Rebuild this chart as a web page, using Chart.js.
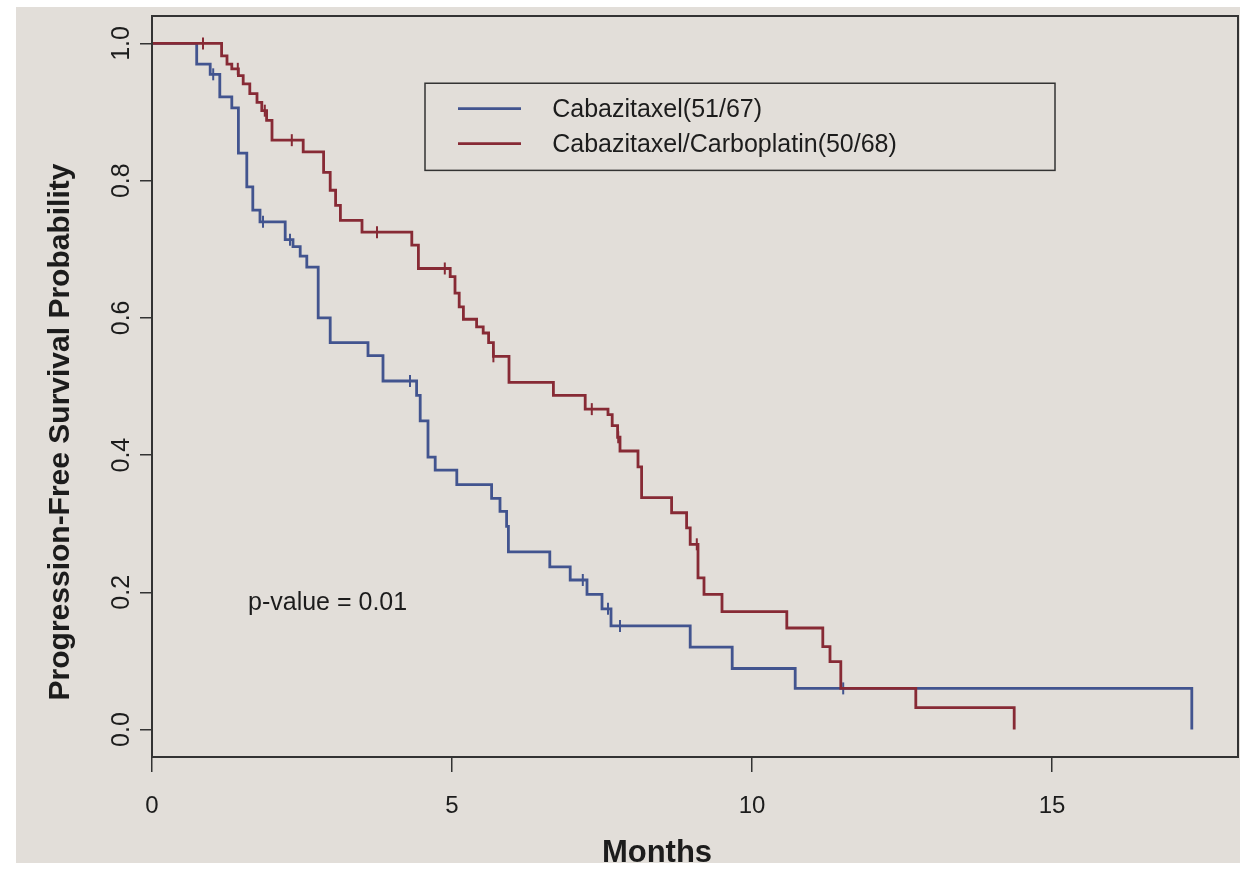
<!DOCTYPE html>
<html>
<head>
<meta charset="utf-8">
<script src="https://cdn.jsdelivr.net/npm/chart.js@4.4.1/dist/chart.umd.min.js"></script>
<style>
  html, body { margin: 0; padding: 0; background: #ffffff; }
  #wrap { width: 1250px; height: 872px; }
</style>
</head>
<body>
<div id="wrap"><canvas id="kmChart" width="1250" height="872"></canvas></div>
<script>
// Kaplan-Meier steps: month of each drop, survival after it
const monthsCaba = [0, 0.745, 0.97, 1.13, 1.33, 1.44, 1.58, 1.68, 1.80, 2.22,
    2.35, 2.47, 2.58, 2.77, 2.97, 3.60, 3.85, 4.41, 4.47, 4.60,
    4.72, 5.08, 5.66, 5.80, 5.91, 5.94, 6.63, 6.97, 7.25, 7.50,
    7.65, 8.97, 9.67, 10.72, 17.33];
const survCaba = [1, 0.970, 0.955, 0.922, 0.906, 0.840, 0.791, 0.757, 0.740, 0.714,
    0.704, 0.690, 0.674, 0.600, 0.564, 0.545, 0.508, 0.487, 0.450, 0.397,
    0.378, 0.357, 0.337, 0.318, 0.296, 0.259, 0.237, 0.218, 0.197, 0.176,
    0.151, 0.120, 0.089, 0.060, 0];
const censorCaba = [1.02, 1.85, 2.30, 4.30, 7.18, 7.60, 7.80, 11.52];

const monthsCarbo = [0, 1.16, 1.25, 1.33, 1.44, 1.52, 1.63, 1.75, 1.83, 1.91,
    2.00, 2.52, 2.86, 2.97, 3.06, 3.14, 3.50, 4.33, 4.44, 4.97,
    5.05, 5.12, 5.19, 5.41, 5.52, 5.61, 5.69, 5.95, 6.69, 7.22,
    7.60, 7.67, 7.76, 7.80, 8.10, 8.16, 8.66, 8.91, 8.97, 9.10,
    9.20, 9.50, 10.58, 11.18, 11.30, 11.48, 12.73, 14.37];
const survCarbo = [1, 0.982, 0.970, 0.963, 0.953, 0.941, 0.927, 0.914, 0.902, 0.888,
    0.859, 0.842, 0.812, 0.786, 0.764, 0.742, 0.725, 0.706, 0.672, 0.660,
    0.636, 0.616, 0.598, 0.587, 0.578, 0.564, 0.544, 0.506, 0.487, 0.467,
    0.459, 0.443, 0.426, 0.406, 0.383, 0.338, 0.316, 0.294, 0.270, 0.221,
    0.197, 0.172, 0.148, 0.121, 0.099, 0.060, 0.032, 0];
const censorCarbo = [0.85, 1.43, 1.88, 2.33, 3.75, 4.88, 5.69, 7.33, 7.77, 9.08];

const seriesNames = ['Cabazitaxel(51/67)', 'Cabazitaxel/Carboplatin(50/68)'];
const seriesColors = ['#42548f', '#872a35'];
const xTicks = [0, 5, 10, 15];
const yTicks = [0, 0.2, 0.4, 0.6, 0.8, 1.0];
const pValueText = 'p-value = 0.01';
const xTitle = 'Months';
const yTitle = 'Progression-Free Survival Probability';

const FONT = "'Liberation Sans', Arial, sans-serif";
const INK = '#1c1c1c';

function toSteps(months, surv) {
    return months.map((m, i) => ({x: m, y: surv[i]}));
}
function levelAt(months, surv, t) {
    var s = 1;
    for (var i = 0; i < months.length; i++) {
        if (months[i] <= t) s = surv[i];
    }
    return s;
}
function toCensor(marks, months, surv) {
    return marks.map(t => ({x: t, y: levelAt(months, surv, t)}));
}

const decorPlugin = {
    id: 'decor',
    beforeDraw(chart) {
        const ctx = chart.ctx;
        ctx.save();
        ctx.fillStyle = '#ffffff';
        ctx.fillRect(0, 0, chart.width, chart.height);
        ctx.fillStyle = '#e2ded9';
        ctx.fillRect(16, 7, 1224, 856);
        ctx.restore();
    },
    afterDraw(chart) {
        const ctx = chart.ctx;
        const a = chart.chartArea;
        const x = chart.scales.x, y = chart.scales.y;
        ctx.save();
        // plot box
        ctx.strokeStyle = '#333';
        ctx.lineWidth = 2;
        ctx.strokeRect(a.left, a.top, a.right - a.left, a.bottom - a.top);

        // legend box
        const lx0 = x.getPixelForValue(4.55), lx1 = x.getPixelForValue(15.05);
        const ly0 = y.getPixelForValue(0.942), ly1 = y.getPixelForValue(0.815);
        ctx.lineWidth = 1.5;
        ctx.strokeRect(lx0, ly0, lx1 - lx0, ly1 - ly0);
        const rows = [0.905, 0.854];
        ctx.font = '25px ' + FONT;
        ctx.textBaseline = 'middle';
        ctx.textAlign = 'left';
        rows.forEach((v, i) => {
            const py = y.getPixelForValue(v);
            ctx.strokeStyle = seriesColors[i];
            ctx.lineWidth = 2.8;
            ctx.beginPath();
            ctx.moveTo(x.getPixelForValue(5.1), py);
            ctx.lineTo(x.getPixelForValue(6.15), py);
            ctx.stroke();
            ctx.fillStyle = INK;
            ctx.fillText(seriesNames[i], x.getPixelForValue(6.67), py + 1);
        });

        // p-value note
        ctx.fillStyle = INK;
        ctx.fillText(pValueText, x.getPixelForValue(1.6), y.getPixelForValue(0.185));

        // axis titles
        ctx.font = 'bold 31px ' + FONT;
        ctx.textAlign = 'center';
        ctx.fillText(xTitle, 657, 853);
        ctx.translate(61, 432);
        ctx.rotate(-Math.PI / 2);
        ctx.font = 'bold 30px ' + FONT;
        ctx.fillText(yTitle, 0, 0);
        ctx.restore();
    }
};

const ctx = document.getElementById('kmChart').getContext('2d');
const kmChart = new Chart(ctx, {
    type: 'line',
    data: {
        datasets: [{
            label: seriesNames[1],
            data: toSteps(monthsCarbo, survCarbo),
            borderColor: seriesColors[1],
            borderWidth: 2.8,
            stepped: 'before',
            pointRadius: 0,
            fill: false,
            order: 0
        }, {
            label: seriesNames[0],
            data: toSteps(monthsCaba, survCaba),
            borderColor: seriesColors[0],
            borderWidth: 2.8,
            stepped: 'before',
            pointRadius: 0,
            fill: false,
            order: 1
        }, {
            label: 'censored ' + seriesNames[1],
            data: toCensor(censorCarbo, monthsCarbo, survCarbo),
            showLine: false,
            pointStyle: 'line',
            pointRotation: 90,
            pointRadius: 6,
            pointBorderWidth: 2,
            pointBorderColor: seriesColors[1],
            order: 0
        }, {
            label: 'censored ' + seriesNames[0],
            data: toCensor(censorCaba, monthsCaba, survCaba),
            showLine: false,
            pointStyle: 'line',
            pointRotation: 90,
            pointRadius: 6,
            pointBorderWidth: 2,
            pointBorderColor: seriesColors[0],
            order: 1
        }]
    },
    options: {
        responsive: false,
        animation: false,
        devicePixelRatio: 1,
        layout: { padding: { top: 16, right: 12, left: 0, bottom: 0 } },
        plugins: {
            legend: { display: false },
            tooltip: { enabled: false }
        },
        scales: {
            x: {
                type: 'linear',
                min: 0,
                max: 18.1,
                afterBuildTicks: s => { s.ticks = xTicks.map(v => ({value: v})); },
                afterFit: s => { s.height = 115; },
                grid: { drawOnChartArea: false, drawTicks: true, tickLength: 15, color: '#333', lineWidth: 1.5 },
                border: { display: true, color: '#333', width: 2 },
                ticks: {
                    font: { family: FONT, size: 24 },
                    color: INK,
                    padding: 20,
                    maxRotation: 0,
                    autoSkip: false,
                    callback: v => String(v)
                }
            },
            y: {
                type: 'linear',
                min: -0.04,
                max: 1.04,
                afterBuildTicks: s => { s.ticks = yTicks.map(v => ({value: v})); },
                afterFit: s => { s.width = 152; },
                grid: { drawOnChartArea: false, drawTicks: true, tickLength: 12, color: '#333', lineWidth: 1.5 },
                border: { display: true, color: '#333', width: 2 },
                ticks: {
                    font: { family: FONT, size: 25 },
                    color: INK,
                    padding: 1,
                    minRotation: 90,
                    maxRotation: 90,
                    crossAlign: 'center',
                    callback: v => v.toFixed(1)
                }
            }
        }
    },
    plugins: [decorPlugin]
});
</script>
</body>
</html>
